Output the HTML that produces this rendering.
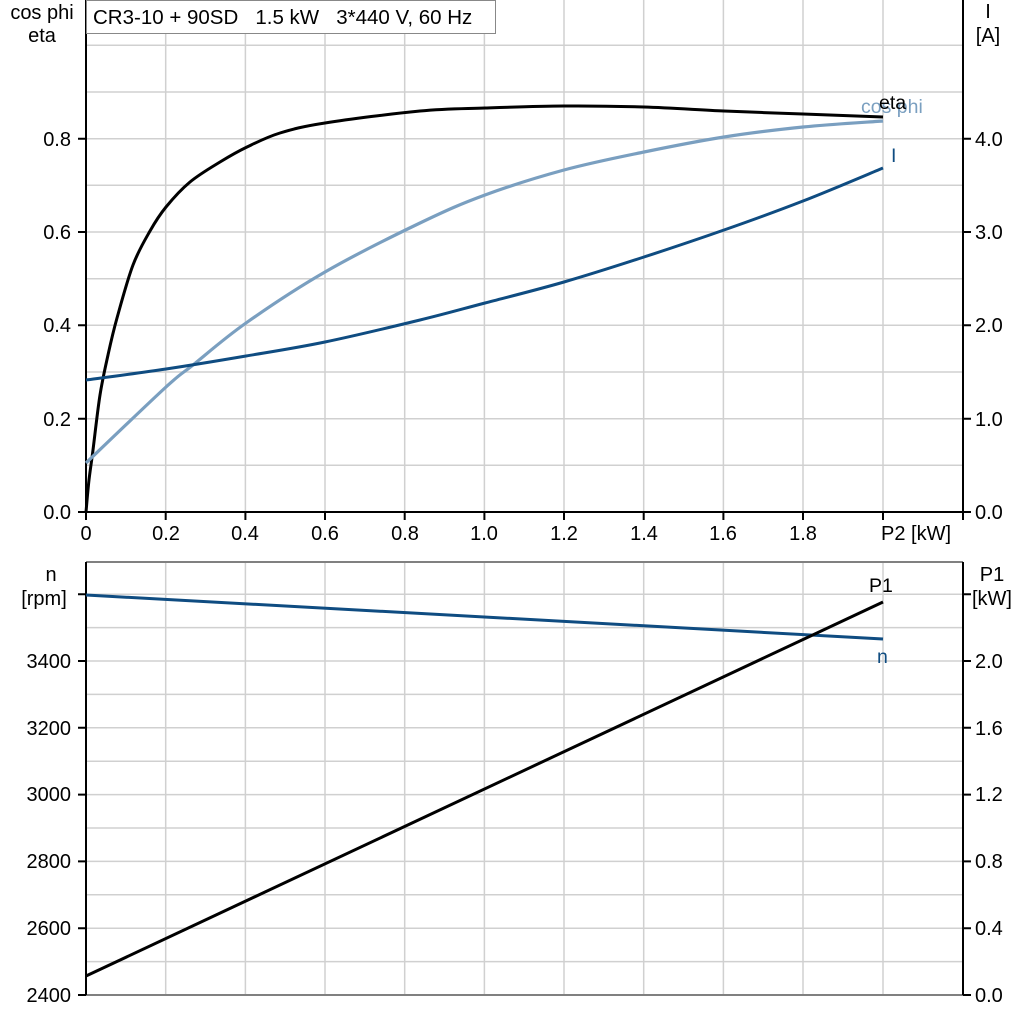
<!DOCTYPE html>
<html><head><meta charset="utf-8"><style>
html,body{margin:0;padding:0;background:#fff}
svg{display:block;font-family:"Liberation Sans",Arial,sans-serif}
text{white-space:pre}
</style></head><body>
<svg width="1024" height="1024" viewBox="0 0 1024 1024" xmlns="http://www.w3.org/2000/svg">
<g stroke="#d0d0d0" stroke-width="1.5" fill="none">
<path d="M165.7 0V512M245.4 0V512M325 0V512M404.7 0V512M484.4 0V512M564 0V512M643.7 0V512M723.4 0V512M803 0V512M883 0V512"/>
<path d="M86 465.3H963M86 418.7H963M86 372H963M86 325.3H963M86 278.7H963M86 232H963M86 185.3H963M86 138.7H963M86 92H963M86 45.3H963"/>
<path d="M165.7 562V995M245.4 562V995M325 562V995M404.7 562V995M484.4 562V995M564 562V995M643.7 562V995M723.4 562V995M803 562V995M883 562V995"/>
<path d="M86 961.6H963M86 928.2H963M86 894.8H963M86 861.4H963M86 828H963M86 794.6H963M86 761.2H963M86 727.8H963M86 694.4H963M86 661H963M86 627.6H963M86 594.2H963"/>
</g>
<path d="M86 562H963M86 995H963" stroke="#808080" stroke-width="2"/>
<g stroke="#000" stroke-width="2" fill="none">
<path d="M86 0V512H963V0"/>
<path d="M78 512H86M78 418.7H86M78 325.3H86M78 232H86M78 138.7H86"/>
<path d="M963 512H971M963 418.7H971M963 325.3H971M963 232H971M963 138.7H971"/>
<path d="M86 512V520M165.7 512V520M245.4 512V520M325 512V520M404.7 512V520M484.4 512V520M564 512V520M643.7 512V520M723.4 512V520M803 512V520M883 512V520M963 512V520"/>
<path d="M86 562V995M963 562V995"/>
<path d="M78 995H86M78 928.2H86M78 861.4H86M78 794.6H86M78 727.8H86M78 661H86M78 594.2H86"/>
<path d="M963 995H971M963 928.2H971M963 861.4H971M963 794.6H971M963 727.8H971M963 661H971M963 594.2H971"/>
</g>
<rect x="86.5" y="0.5" width="409" height="33" fill="#fff" stroke="#888" stroke-width="1"/>
<text x="93" y="24" font-size="20.5" xml:space="preserve">CR3-10 + 90SD   1.5 kW   3*440 V, 60 Hz</text>
<path id="eta" fill="none" stroke="#000" stroke-width="3" stroke-linejoin="round"/>
<path id="cp" fill="none" stroke="#7a9fc0" stroke-width="3.2" stroke-linejoin="round"/>
<path id="ic" fill="none" stroke="#0f4c81" stroke-width="3" stroke-linejoin="round"/>
<text x="861" y="113" font-size="19.5" fill="#7a9fc0">cos phi</text>
<text x="879" y="109" font-size="19.5" fill="#000">eta</text>
<text x="891" y="162" font-size="19.5" fill="#0f4c81">I</text>
<path d="M86 595 L883 639" fill="none" stroke="#0f4c81" stroke-width="3"/>
<path d="M86 976 L883 602" fill="none" stroke="#000" stroke-width="3"/>
<text x="869" y="592" font-size="19.5">P1</text>
<text x="877" y="663" font-size="19.5" fill="#0f4c81">n</text>
<g font-size="20" fill="#000">
<text x="42" y="19" text-anchor="middle">cos phi</text>
<text x="42" y="42" text-anchor="middle">eta</text>
<text x="988" y="18" text-anchor="middle">I</text>
<text x="988" y="42" text-anchor="middle">[A]</text>
<g text-anchor="end">
<text x="71" y="519">0.0</text><text x="71" y="426">0.2</text><text x="71" y="332">0.4</text><text x="71" y="239">0.6</text><text x="71" y="146">0.8</text>
<text x="71" y="1002">2400</text><text x="71" y="935">2600</text><text x="71" y="868">2800</text><text x="71" y="801">3000</text><text x="71" y="735">3200</text><text x="71" y="668">3400</text>
</g>
<g text-anchor="start">
<text x="975" y="519">0.0</text><text x="975" y="426">1.0</text><text x="975" y="332">2.0</text><text x="975" y="239">3.0</text><text x="975" y="146">4.0</text>
<text x="975" y="1002">0.0</text><text x="975" y="935">0.4</text><text x="975" y="868">0.8</text><text x="975" y="801">1.2</text><text x="975" y="735">1.6</text><text x="975" y="668">2.0</text>
</g>
<g text-anchor="middle">
<text x="86" y="540">0</text><text x="166" y="540">0.2</text><text x="245" y="540">0.4</text><text x="325" y="540">0.6</text><text x="405" y="540">0.8</text><text x="484" y="540">1.0</text><text x="564" y="540">1.2</text><text x="644" y="540">1.4</text><text x="723" y="540">1.6</text><text x="803" y="540">1.8</text>
</g>
<text x="881" y="540">P2 [kW]</text>
<text x="51" y="581" text-anchor="middle">n</text>
<text x="44" y="605" text-anchor="middle">[rpm]</text>
<text x="992" y="581" text-anchor="middle">P1</text>
<text x="992" y="605" text-anchor="middle">[kW]</text>
</g>
</svg>
<script>
function cr(p){var d="M"+p[0][0]+" "+p[0][1];for(var i=0;i<p.length-1;i++){var a=p[i-1]||p[i],b=p[i],c=p[i+1],e=p[i+2]||c;
d+=" C"+(b[0]+(c[0]-a[0])/6).toFixed(1)+" "+(b[1]+(c[1]-a[1])/6).toFixed(1)+" "+(c[0]-(e[0]-b[0])/6).toFixed(1)+" "+(c[1]-(e[1]-b[1])/6).toFixed(1)+" "+c[0]+" "+c[1];}return d;}
document.getElementById("eta").setAttribute("d",cr([[86,512],[89,480],[93,450],[100,395],[108,355],[117,318],[133,265],[150,231],[166,207],[190,182],[220,162],[247,147],[280,133],[325,123],[420,111],[485,108],[564,106],[644,107],[724,111],[803,114],[883,117]]));
document.getElementById("cp").setAttribute("d",cr([[86,463],[166,387],[193,365],[246,323],[325,272],[420,223],[485,195],[564,170],[644,152],[724,137],[803,127],[883,121]]));
document.getElementById("ic").setAttribute("d",cr([[86,380],[166,369],[246,356],[325,342],[420,320],[485,303],[564,282],[644,257],[724,230],[803,201],[883,168]]));
</script>
</body></html>
